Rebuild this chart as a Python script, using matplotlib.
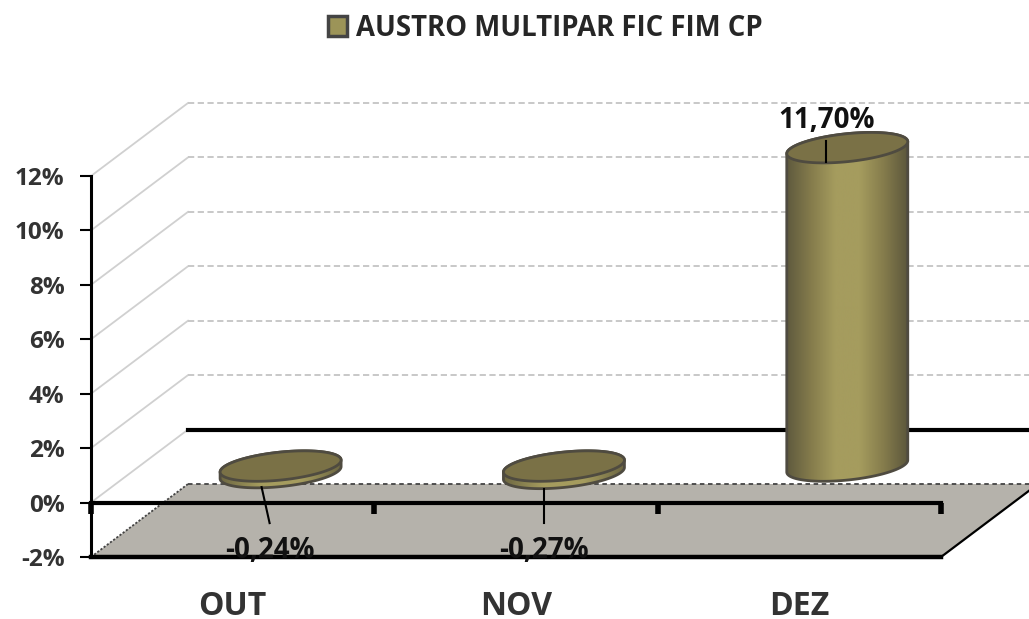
import numpy as np
import matplotlib
matplotlib.use("Agg")
import matplotlib.pyplot as plt
from matplotlib.colors import LinearSegmentedColormap
from matplotlib.patches import Patch, Polygon

plt.rcParams['font.family'] = ['Open Sans', 'DejaVu Sans']

categories = ['OUT', 'NOV', 'DEZ']
values = [-0.24, -0.27, 11.70]
value_labels = ['-0,24%', '-0,27%', '11,70%']
yticks = [-2, 0, 2, 4, 6, 8, 10, 12]
ytick_labels = ['-2%', '0%', '2%', '4%', '6%', '8%', '10%', '12%']
series_name = 'AUSTRO MULTIPAR FIC FIM CP'

W, H = 1029, 619
fig = plt.figure(figsize=(W / 100, H / 100), dpi=100)
ax = fig.add_axes([91 / W, (H - 557) / H, 850 / W, 381 / H])

# size of one pixel in data units, the 3d look is faked with these
px_x = 3 / 850
px_y = 14 / 381
depth_x = 97 * px_x
depth_y = 73 * px_y

OUTLINE = '#4f4b40'
TOP = '#7a7146'
cyl_cmap = LinearSegmentedColormap.from_list(
    'cyl', ['#5f5a3e', '#857c4c', '#a59c5e', '#a59c5e', '#857c4c', '#5c573c'])
disk_cmap = LinearSegmentedColormap.from_list('disk', ['#6d6742', '#a59c5e', '#a59c5e', '#6d6742'])

# walls and floor
floor = [(0, -2), (3, -2), (3 + depth_x, -2 + depth_y), (depth_x, -2 + depth_y)]
ax.add_patch(Polygon(floor, closed=True, fc='#b5b2ab', ec='none', zorder=1, clip_on=False))
for t in yticks:
    if t > -2:
        ax.plot([0, depth_x], [t, t + depth_y], color='#d0d0d0', lw=1.3, zorder=1, clip_on=False)
    if t == -2:
        ax.plot([depth_x, 3 + depth_x], [t + depth_y] * 2, color='#444444', lw=1.3,
                ls=(0, (2.5, 2)), zorder=2, clip_on=False)
    elif t == 0:
        ax.plot([depth_x, 3 + depth_x], [t + depth_y] * 2, color='black', lw=3, zorder=2, clip_on=False)
    else:
        ax.plot([depth_x, 3 + depth_x], [t + depth_y] * 2, color='#c8c8c8', lw=1.4,
                ls=(0, (3.2, 1.8)), zorder=2, clip_on=False)
ax.plot([0, depth_x], [-2, -2 + depth_y], color='#444444', lw=1.3, ls=(0, (1.2, 1)), zorder=2, clip_on=False)
ax.plot([3, 3 + depth_x], [-2, -2 + depth_y], color='black', lw=1.6, zorder=2, clip_on=False)


def ellipse(cx, cy, t):
    a = 60.5 * px_x
    b = 14 * px_y
    s = 6 * px_y
    return cx + a * np.cos(t), cy + s * np.cos(t) + b * np.sin(t)


for i, v in enumerate(values):
    cx = i + 0.5 + depth_x / 2 - 0.002
    base = depth_y / 2
    y_hi = max(v, 0) + base
    y_lo = min(v, 0) + base

    # body outline: upper half of the top ellipse then lower half of the bottom one
    x1, y1 = ellipse(cx, y_hi, np.linspace(np.pi, 0, 80))
    x2, y2 = ellipse(cx, y_lo, np.linspace(0, -np.pi, 80))
    body = Polygon(np.column_stack([np.r_[x1, x2], np.r_[y1, y2]]), closed=True,
                   fc='none', ec=OUTLINE, lw=2, zorder=4, clip_on=False)
    ax.add_patch(body)
    grad = np.linspace(0, 1, 256).reshape(1, -1)
    im = ax.imshow(grad, cmap=cyl_cmap if v > 0 else disk_cmap, aspect='auto', zorder=3,
                   extent=(x1.min(), x1.max(), y2.min(), y1.max()))
    im.set_clip_box(fig.bbox)
    im.set_clip_path(body)

    xt, yt = ellipse(cx, y_hi, np.linspace(0, 2 * np.pi, 160))
    ax.add_patch(Polygon(np.column_stack([xt, yt]), closed=True, fc=TOP, ec=OUTLINE, lw=2,
                         zorder=5, clip_on=False))

ax.set_xlim(0, 3)
ax.set_ylim(-2, 12)

# zero line with its category ticks
ax.plot([0, 3], [0, 0], color='black', lw=3, zorder=6, clip_on=False)
for i in range(4):
    ax.plot([i, i], [0, -11 * px_y], color='black', lw=4, zorder=6, solid_capstyle='butt', clip_on=False)

# leader lines and labels, offsets in pixels from the bar top/bottom
leaders = [(-19, -14.5, -11, -50.5), (-20, -15.7, -20, -49.7), (-21, 7, -21, -14)]
label_off = [(-11, -78), (-20, -77.2), (-21, 27)]
for i, v in enumerate(values):
    cx = i + 0.5 + depth_x / 2 - 0.002
    cy = v + depth_y / 2
    x0, y0, x1, y1 = leaders[i]
    ax.plot([cx + x0 * px_x, cx + x1 * px_x], [cy + y0 * px_y, cy + y1 * px_y], color='black',
            lw=1.5, zorder=7, clip_on=False)
    ax.text(cx + label_off[i][0] * px_x, cy + label_off[i][1] * px_y, value_labels[i], ha='center',
            va='center', fontsize=20, fontweight='bold', color='#111111', zorder=8, clip_on=False)

ax.patch.set_visible(False)
for s in ['top', 'right']:
    ax.spines[s].set_visible(False)
ax.spines['left'].set_linewidth(2.2)
ax.spines['bottom'].set_linewidth(3.2)
for s in ['left', 'bottom']:
    ax.spines[s].set_zorder(6)

ax.set_yticks(yticks, ytick_labels, fontsize=17.5, fontweight='bold', color='#333333')
ax.tick_params(axis='y', length=8, width=1.5, pad=11)
ax.set_xticks([0.5, 1.5, 2.5], categories, fontsize=23, fontweight='bold', color='#333333')
ax.tick_params(axis='x', length=0, pad=24)

handle = Patch(fc='#9c9458', ec='#444444', lw=2.5)
fig.legend(handles=[handle], labels=[series_name], loc='center', bbox_to_anchor=(545 / W, 1 - 28 / H),
           frameon=False, handlelength=0.72, handleheight=0.72, handletextpad=0.3,
           prop={'size': 19.8, 'weight': 'bold'}, labelcolor='#262626')

fig.savefig('out.png', dpi=100)
